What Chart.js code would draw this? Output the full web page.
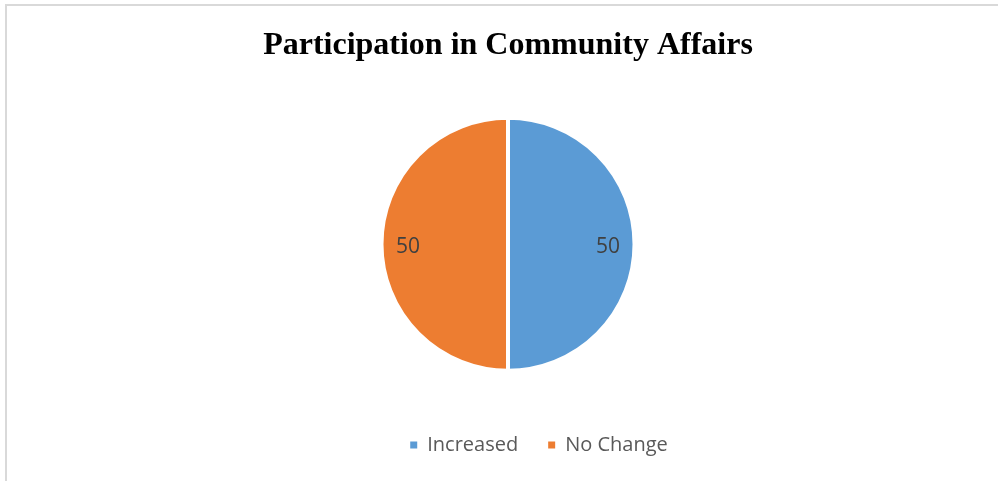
<!DOCTYPE html>
<html lang="en">
<head>
  <meta charset="UTF-8"/>
  <title>Participation in Community Affairs</title>
  <script src="https://cdn.jsdelivr.net/npm/chart.js"></script>
  <style>
    body { margin: 0; padding: 0; background: #fff; overflow: hidden; }
    .wrap { position: relative; width: 998px; height: 481px; }
    .frame { position: absolute; left: 5px; top: 4px; right: -10px; bottom: -10px; border: 2px solid #d9d9d9; }
    canvas { position: absolute; left: 0; top: 0; }
  </style>
</head>
<body>
<div class="wrap">
  <div class="frame"></div>
  <canvas id="pie" width="998" height="481"></canvas>
</div>
<script>
const labels = ["Increased", "No Change"];
const values = [50, 50];
const colors = ["#5B9BD5", "#ED7D31"];

// value labels inside the slices
const sliceLabels = {
  id: 'sliceLabels',
  afterDatasetsDraw(chart) {
    const ctx = chart.ctx;
    const meta = chart.getDatasetMeta(0);
    ctx.save();
    ctx.font = '21px "Open Sans"';
    ctx.fillStyle = '#404040';
    ctx.textAlign = 'center';
    ctx.textBaseline = 'middle';
    meta.data.forEach((arc, i) => {
      const p = arc.getProps(['x','y','startAngle','endAngle','outerRadius'], true);
      const mid = (p.startAngle + p.endAngle) / 2;
      const r = p.outerRadius * 0.79;
      ctx.fillText(String(values[i]), p.x + Math.cos(mid) * r, p.y + Math.sin(mid) * r + 3);
    });
    ctx.restore();
  }
};

// legend sits a bit right of the centre and higher in the original
const legendShift = {
  id: 'legendShift',
  afterLayout(chart) {
    chart.legend.left += 31;
    chart.legend.right += 31;
    chart.legend.top -= 16;
    chart.legend.bottom -= 16;
  }
};

const defaultLabels = Chart.overrides.pie.plugins.legend.labels.generateLabels;

new Chart(document.getElementById('pie'), {
  type: 'pie',
  data: {
    labels: labels,
    datasets: [{ data: values, backgroundColor: colors, borderColor: '#fff', borderWidth: 4 }]
  },
  options: {
    responsive: false,
    animation: false,
    radius: 126.5,
    layout: { padding: { left: 18, right: 0, top: 0, bottom: 0 } },
    plugins: {
      tooltip: { enabled: false },
      title: {
        display: true,
        text: 'Participation in Community Affairs',
        color: '#000',
        font: { family: '"Liberation Serif"', size: 32, weight: 'bold', lineHeight: 1.2 },
        padding: { top: 27, bottom: 2 }
      },
      legend: {
        position: 'bottom',
        labels: {
          usePointStyle: true,
          pointStyle: 'rect',
          boxWidth: 7,
          boxHeight: 7,
          padding: 30,
          color: '#595959',
          font: { family: '"Open Sans"', size: 20 },
          generateLabels(chart) {
            return defaultLabels(chart).map(l => Object.assign(l, { lineWidth: 0 }));
          }
        }
      }
    }
  },
  plugins: [sliceLabels, legendShift]
});
</script>
</body>
</html>
